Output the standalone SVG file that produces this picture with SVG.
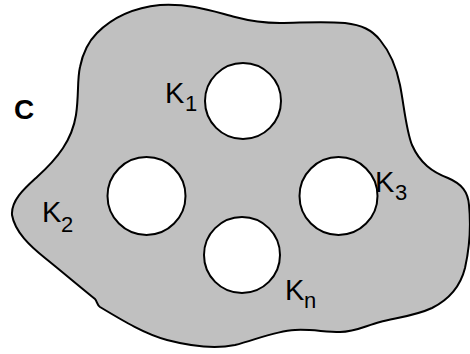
<svg xmlns="http://www.w3.org/2000/svg" width="470" height="354" viewBox="0 0 470 354">
<style>
.blob{fill:#c0c0c0;stroke:#000;stroke-width:2}
.hole{fill:#fff;stroke:#000;stroke-width:2}
.k{font-family:"Liberation Sans",Arial,sans-serif;font-size:29px;fill:#000}
.sub{font-family:"Liberation Sans",Arial,sans-serif;font-size:22px;fill:#000}
.c{font-family:"Liberation Sans",Arial,sans-serif;font-size:28px;font-weight:bold;fill:#000}
</style>
<rect width="470" height="354" fill="#fff"/>
<g id="region">
<path class="blob" d="M 37,177 C 58,158 72,140 76,115 C 79,95 77,80 80,67 C 83,52 88,42 97,33 C 110,20 130,8 160,5 C 190,3 215,12 235,17 C 250,21 262,23 280,23 C 300,23 320,21 345,23 C 362,25 372,30 380,40 C 390,52 396,65 400,85 C 404,105 406,130 412,145 C 420,163 432,172 448,178 C 462,184 468,192 469,205 C 471,225 469,250 465,268 C 460,288 448,300 432,308 C 415,316 395,318 380,322 C 365,326 355,332 340,332 C 325,332 310,329 295,330 C 275,331 255,340 235,345 C 215,349 190,346 167,340 C 145,334 125,322 100,307 C 97,305 97,301 95,299 C 80,287 60,270 45,258 C 30,246 15,232 12,215 C 11,200 25,188 37,177 Z"/>
<text class="c" x="14" y="119">C</text>
</g>
<g id="K1">
<circle class="hole" cx="243" cy="101" r="38"/>
<text class="k" x="165" y="103">K</text><text class="sub" x="185" y="111">1</text>
</g>
<g id="K2">
<circle class="hole" cx="146.5" cy="196" r="39"/>
<text class="k" x="42" y="222">K</text><text class="sub" x="61" y="232">2</text>
</g>
<g id="K3">
<circle class="hole" cx="338.5" cy="196" r="39"/>
<text class="k" x="375" y="192">K</text><text class="sub" x="395" y="200">3</text>
</g>
<g id="Kn">
<circle class="hole" cx="242" cy="255" r="38"/>
<text class="k" x="285" y="300">K</text><text class="sub" x="304" y="308">n</text>
</g>
<g id="connectors"/>
</svg>
